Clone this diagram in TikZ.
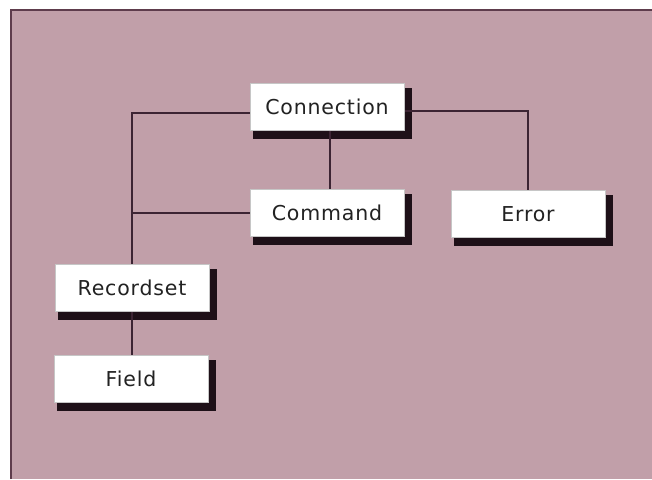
\documentclass[tikz,border=0pt]{standalone}
\usepackage{fontspec}
\newfontfamily\boxfont{DejaVu Sans}[LetterSpace=4]
\usetikzlibrary{calc,backgrounds}
\definecolor{bgc}{HTML}{C19FA9}
\definecolor{framec}{HTML}{5E3C4C}
\definecolor{linec}{HTML}{3C2433}
\definecolor{shc}{HTML}{1E1018}
\definecolor{txtc}{HTML}{222222}
\tikzset{
  obj/.style={draw=gray!45, line width=0.6pt, fill=white, minimum width=154pt,
    minimum height=47pt, inner sep=0pt, text=txtc,
    font=\boxfont\fontsize{20.5}{24}\selectfont},
  link/.style={draw=linec, line width=1.2pt},
}
\begin{document}
\begin{tikzpicture}[x=1pt,y=-1pt]
\useasboundingbox (0,0) rectangle (652,479);
\node[obj] (conn) at (327,107) {Connection};
\node[obj] (cmd) at (327,213) {Command};
\node[obj] (err) at (528,214) {Error};
\node[obj] (rs) at (132,288) {Recordset};
\node[obj] (fld) at (131,379) {Field};
\begin{scope}[on background layer]
  \fill[white] (0,0) rectangle (652,479);
  \fill[bgc] (10,9) rectangle (652,479);
  \draw[framec, line width=2pt] (11,479) -- (11,10) -- (652,10);
  \foreach \n in {conn,cmd,err,rs,fld}
    \fill[shc] ($(\n.north west)+(3,5)$) rectangle ($(\n.south east)+(8,8)$);
  \draw[link] ([yshift=-6pt]conn.west) -| (rs.north);
  \draw[link] (cmd.west) -- (cmd.west -| rs.north);
  \draw[link] ([yshift=-4pt]conn.east) -| (err.north);
  \draw[link] ([xshift=3pt]conn.south) -- ([xshift=3pt]conn.south |- cmd.north);
  \draw[link] (rs.south) -- (rs.south |- fld.north);
\end{scope}
\end{tikzpicture}
\end{document}
